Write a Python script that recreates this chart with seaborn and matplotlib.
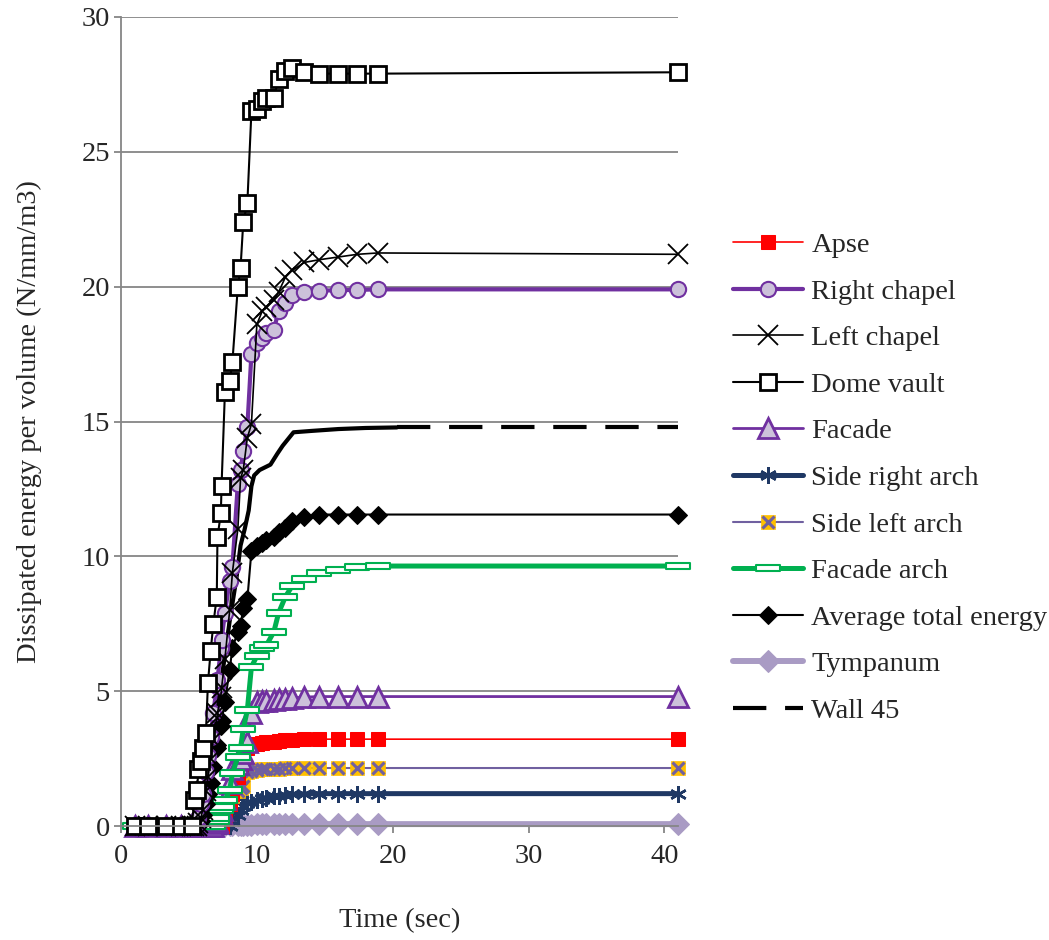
import matplotlib
matplotlib.use("Agg")
import matplotlib.pyplot as plt
from matplotlib.path import Path
import seaborn as sns

# time steps (sec)
time_s = [1.0, 2.0, 3.3, 4.4, 5.2, 5.4, 5.6, 5.7, 5.9, 6.0,
          6.25, 6.4, 6.6, 6.8, 7.05, 7.1, 7.35, 7.4, 7.65, 8.0,
          8.2, 8.6, 8.8, 9.0, 9.3, 9.6, 10.0, 10.4, 10.7, 11.25,
          11.6, 12.1, 12.6, 13.5, 14.6, 16.0, 17.4, 18.9, 41.0]

apse = [0, 0, 0, 0, 0, 0, 0, 0, 0, 0,
        0, 0, 0, 0, 0, 0, 0, 0, 0.3, 0.8,
        1.2, 1.8, 2.2, 2.5, 2.9, 3.0, 3.05, 3.08, 3.1, 3.13,
        3.15, 3.18, 3.2, 3.22, 3.22, 3.22, 3.22, 3.22, 3.22]
right_chapel = [0, 0, 0, 0, 0, 0, 0.1, 0.3, 0.8, 1.2,
                2.0, 2.6, 3.3, 4.2, 5.2, 5.4, 6.6, 6.9, 7.9, 9.1,
                9.6, 12.7, 13.2, 13.9, 14.8, 17.5, 17.9, 18.1, 18.3, 18.4,
                19.1, 19.4, 19.7, 19.8, 19.85, 19.87, 19.88, 19.9, 19.9]
left_chapel = [0, 0, 0, 0, 0, 0, 0, 0.1, 0.3, 0.6,
               1.3, 1.8, 2.5, 3.2, 4.0, 4.2, 4.8, 5.1, 6.2, 8.0,
               9.4, 11.0, 12.9, 13.2, 14.4, 14.9, 18.6, 19.1, 19.25, 19.5,
               19.8, 20.35, 20.6, 20.9, 21.0, 21.1, 21.2, 21.25, 21.2]
dome_vault = [0, 0, 0, 0, 0, 0.95, 1.35, 2.1, 2.4, 2.9,
              3.45, 5.3, 6.5, 7.5, 8.5, 10.7, 11.6, 12.6, 16.1, 16.5,
              17.2, 20.0, 20.7, 22.4, 23.1, 26.5, 26.6, 26.9, 27.0, 27.0,
              27.7, 28.0, 28.1, 27.95, 27.9, 27.9, 27.9, 27.9, 27.95]
facade = [0, 0, 0, 0, 0, 0, 0, 0, 0, 0,
          0, 0, 0, 0, 0.1, 0.2, 0.5, 0.6, 1.0, 1.6,
          2.1, 2.3, 2.5, 2.7, 3.1, 4.2, 4.6, 4.62, 4.65, 4.68,
          4.7, 4.72, 4.75, 4.78, 4.8, 4.8, 4.8, 4.8, 4.8]
side_right_arch = [0, 0, 0, 0, 0, 0, 0, 0, 0, 0,
                   0, 0, 0, 0, 0, 0, 0, 0, 0, 0,
                   0.2, 0.4, 0.6, 0.75, 0.85, 0.9, 0.95, 1.0, 1.05, 1.1,
                   1.12, 1.15, 1.17, 1.19, 1.2, 1.2, 1.2, 1.2, 1.2]
side_left_arch = [0, 0, 0, 0, 0, 0, 0, 0, 0, 0,
                  0, 0, 0, 0, 0, 0, 0, 0, 0.3, 0.8,
                  1.1, 1.3, 1.4, 1.5, 2.0, 2.05, 2.08, 2.1, 2.11, 2.12,
                  2.13, 2.14, 2.15, 2.15, 2.15, 2.15, 2.15, 2.15, 2.15]
facade_arch = [0, 0, 0, 0, 0, 0, 0, 0, 0, 0,
               0, 0, 0, 0, 0.2, 0.3, 0.6, 0.7, 0.96, 1.33,
               1.96, 2.55, 2.9, 3.6, 4.3, 5.9, 6.3, 6.6, 6.7, 7.2,
               7.9, 8.5, 8.9, 9.15, 9.38, 9.5, 9.6, 9.64, 9.64]
average_total = [0, 0, 0, 0, 0, 0, 0, 0, 0.2, 0.4,
                 0.8, 1.2, 1.6, 2.2, 2.9, 3.0, 3.7, 3.9, 4.6, 5.8,
                 6.6, 7.2, 7.4, 8.1, 8.4, 10.2, 10.4, 10.5, 10.6, 10.7,
                 10.9, 11.05, 11.3, 11.45, 11.55, 11.55, 11.55, 11.55, 11.55]
tympanum = [0, 0, 0, 0, 0, 0, 0, 0, 0, 0.01,
            0.01, 0.02, 0.02, 0.02, 0.03, 0.03, 0.03, 0.03, 0.04, 0.04,
            0.04, 0.05, 0.05, 0.05, 0.05, 0.05, 0.06, 0.06, 0.06, 0.06,
            0.06, 0.07, 0.07, 0.07, 0.07, 0.07, 0.07, 0.07, 0.07]

wall_time = [1.0, 5.0, 5.5, 6.0, 6.5, 7.0, 7.5, 8.0, 8.5, 8.8,
             9.1, 9.4, 9.6, 9.8, 10.2, 10.6, 11.0, 11.5, 11.9, 12.3,
             12.7, 14.0, 16.0, 18.0, 20.3]
wall_45 = [0, 0, 0.3, 1.2, 2.4, 4.0, 5.8, 7.6, 9.2, 10.4,
           11.0, 11.7, 12.6, 13.0, 13.2, 13.3, 13.4, 13.8, 14.1, 14.35,
           14.6, 14.65, 14.72, 14.76, 14.78]
wall_tail_time = [20.3, 41.0]
wall_tail = [14.78, 14.78]

sns.set_style("white")
plt.rcParams["font.family"] = ["Liberation Serif", "DejaVu Serif"]
FS = 20.5
plt.rcParams["font.size"] = FS

fig = plt.figure(figsize=(10.49, 9.40), dpi=100)
ax = fig.add_axes([121 / 1049, 1 - 826 / 940, (678 - 121) / 1049, (826 - 17) / 940])

grid_col = "#868686"
bar_marker = Path([(-1, -0.27), (1, -0.27), (1, 0.27), (-1, 0.27), (-1, -0.27)],
                  [Path.MOVETO, Path.LINETO, Path.LINETO, Path.LINETO, Path.CLOSEPOLY])


def draw(y, x=time_s, **kw):
    sns.lineplot(x=x, y=y, ax=ax, estimator=None, sort=False, clip_on=False, **kw)
    return ax.lines[-1]


# draw from back to front
h_tymp = draw(tympanum, color="#A99BC4", lw=4.3, marker="D", ms=11,
              mfc="#A99BC4", mec="#A99BC4")
h_wall = draw(wall_45, x=wall_time, color="black", lw=3.0)
h_wall_tail = draw(wall_tail, x=wall_tail_time, color="black", lw=3.0, dashes=(8, 4.5))
h_sra = draw(side_right_arch, color="#1F3864", lw=3.6, marker=(6, 2, 0), ms=12,
             mec="#1F3864", mew=1.8)
h_sla_sq = draw(side_left_arch, color="#7060A0", lw=1.5, marker="s", ms=10,
                mfc="#FFC000", mec="#FFC000", mew=0.5)
h_sla_x = draw(side_left_arch, color="#7060A0", lw=0, marker="x", ms=9,
               mec="#7060A0", mew=2.2)
h_apse = draw(apse, color="#FF0000", lw=1.2, marker="s", ms=10,
              mfc="#FF0000", mec="#FF0000")
h_facade = draw(facade, color="#7030A0", lw=2.0, marker="^", ms=15,
                mfc="#CCC1DA", mec="#7030A0", mew=2)
h_farch = draw(facade_arch, color="#00B050", lw=3.6, marker=bar_marker, ms=17,
               mfc="white", mec="#00B050", mew=1.5)
h_avg = draw(average_total, color="black", lw=1.5, marker="D", ms=9,
             mfc="black", mec="black")
h_right = draw(right_chapel, color="#7030A0", lw=3.0, marker="o", ms=11,
               mfc="#CCC1DA", mec="#7030A0", mew=1.5)
h_left = draw(left_chapel, color="black", lw=1.2, marker="x", ms=14,
              mec="black", mew=1.3)
h_dome = draw(dome_vault, color="black", lw=1.5, marker="s", ms=12,
              mfc="white", mec="black", mew=2)

ax.set_xlim(0, 41)
ax.set_ylim(0, 30)
ax.set_xticks([0, 10, 20, 30, 40])
ax.set_yticks([0, 5, 10, 15, 20, 25, 30])
ax.yaxis.grid(True, color=grid_col, lw=1.3)
ax.xaxis.grid(False)
ax.set_axisbelow(True)
for s in ["top", "right"]:
    ax.spines[s].set_visible(False)
for s in ["left", "bottom"]:
    ax.spines[s].set_color(grid_col)
    ax.spines[s].set_linewidth(1.3)
ax.tick_params(axis="both", direction="out", length=5, width=1.3, color=grid_col,
               labelsize=FS)
ax.tick_params(axis="x", bottom=True, pad=8)
ax.tick_params(axis="y", left=True, pad=3)

ax.set_xlabel("Time (sec)", fontsize=FS, labelpad=28)
ax.set_ylabel("Dissipated energy per volume (N/mm/m3)", fontsize=FS, labelpad=28)

handles = [h_apse, h_right, h_left, h_dome, h_facade, h_sra, (h_sla_sq, h_sla_x),
           h_farch, h_avg, h_tymp, h_wall_tail]
labels = ["Apse", "Right chapel", "Left chapel", "Dome vault", "Facade",
          "Side right arch", "Side left arch", "Facade arch",
          "Average total energy", "Tympanum", "Wall 45"]
ax.legend(handles, labels, loc="center left", frameon=False, fontsize=FS,
          bbox_to_anchor=(733 / 1049, 1 - 478 / 940), bbox_transform=fig.transFigure,
          borderpad=0, borderaxespad=0, handlelength=2.45, handletextpad=0.3,
          labelspacing=0.725, markerscale=1.0)

fig.savefig("out.png", dpi=100)
